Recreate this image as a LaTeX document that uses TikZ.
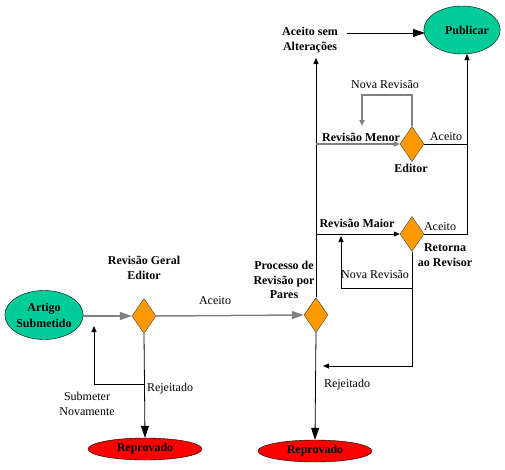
\documentclass[tikz,border=0pt]{standalone}
\usepackage{fontspec}
\setmainfont{Liberation Serif}
\usetikzlibrary{shapes.geometric,arrows.meta}
\definecolor{dorange}{HTML}{FF9900}
\definecolor{dgreen}{HTML}{00CC99}
\definecolor{lgray}{HTML}{808080}
\begin{document}
\begin{tikzpicture}[x=1pt,y=-1pt,
  dia/.style={diamond,draw=black!75,fill=dorange,minimum width=24pt,minimum height=35pt,inner sep=0pt,aspect=0.69},
  grn/.style={ellipse,draw=black,fill=dgreen,inner sep=0pt,align=center,font=\bfseries\fontsize{12}{16}\selectfont},
  rej/.style={ellipse,draw=black,fill=red,minimum width=114pt,minimum height=22pt,inner sep=0pt,font=\bfseries\fontsize{12}{13}\selectfont},
  lbl/.style={align=center,inner sep=1pt,font=\bfseries\fontsize{12}{14.5}\selectfont},
  txt/.style={align=center,inner sep=1pt,font=\fontsize{12}{14.5}\selectfont},
  bline/.style={draw=black,line width=0.8pt},
  gline/.style={draw=lgray,line width=1.5pt},
  big/.tip={Triangle[length=12pt,width=8pt]},
  sml/.tip={Triangle[length=6pt,width=5pt]}
]
\useasboundingbox (0,0) rectangle (505,469);
% nodes
\node[grn,minimum width=73pt,minimum height=49pt] (art) at (44,315) {Artigo\\Submetido};
\node[dia] (d1) at (144,316) {};
\node[lbl] (l1) at (144,268) {Revisão Geral\\Editor};
\node[dia] (d2) at (316,315) {};
\node[lbl] (l2) at (284,280) {Processo de\\Revisão por\\Pares};
\node[rej] (r1) at (145,449) {Reprovado};
\node[rej] (r2) at (315,451) {Reprovado};
\node[grn,minimum width=74pt,minimum height=48pt] (pub) at (462,30) {\hspace*{10pt}Publicar};
\node[lbl] (acs) at (310,40) {Aceito sem\\Alterações};
\node[dia] (d3) at (412,144) {};
\node[dia] (d4) at (412,234) {};
\node[lbl] (lmen) at (361,137) {Revisão Menor};
\node[lbl] (led) at (411,168) {Editor};
\node[lbl] (lmai) at (357,223) {Revisão Maior};
\node[lbl] (lret) at (445,255) {Retorna\\ao Revisor};
% plain labels
\node[txt] (t1) at (215,301) {Aceito};
\node[txt] (t2) at (170,389) {Rejeitado};
\node[txt] (t3) at (87,404) {Submeter\\Novamente};
\node[txt] (t4) at (347,385) {Rejeitado};
\node[txt] (t5) at (385,85) {Nova Revisão};
\node[txt] (t6) at (446,137) {Aceito};
\node[txt] (t7) at (440,227) {Aceito};
\node[txt] (t8) at (375,275) {Nova Revisão};
% coordinates
\coordinate (j1) at (316,144);
\coordinate (j2) at (316,234);
\coordinate (top) at (316,58);
\coordinate (a1) at (347,33);
\coordinate (a2) at (425,33);
\coordinate (m1) at (467,144);
\coordinate (pj) at (467,234);
\coordinate (pt) at (467,54);
\coordinate (n1) at (412,95);
\coordinate (n2) at (362,95);
\coordinate (n3) at (362,126);
\coordinate (q1) at (412,288);
\coordinate (q2) at (341,288);
\coordinate (q3) at (341,236);
\coordinate (b1) at (412,366);
\coordinate (b2) at (323,366);
\coordinate (s1) at (144,384);
\coordinate (s2) at (94,384);
\coordinate (s3) at (94,326);
% connectors
\draw[gline,-{big}] (art.east |- d1.west) -- (d1.west);
\draw[gline,-{big}] (d1.east) -- (d2.west);
\draw[bline,-{big}] (d1.south) -- (r1.north);
\draw[bline,-{sml}] (s1) -- (s2) -- (s3);
\draw[bline,-{big}] (d2.south) -- (r2.north);
\draw[bline,-{sml}] (d2.north) -- (top);
\draw[bline,-{big}] (a1) -- (a2);
\draw[gline,-{sml}] (j1) -- (d3.west);
\draw[bline,-{sml}] (j2) -- (d4.west);
\draw[bline] (d3.east) -- (m1);
\draw[bline,-{sml}] (d4.east) -- (pj) -- (pt);
\draw[gline,-{sml}] (d3.north) -- (n1) -- (n2) -- (n3);
\draw[bline,-{sml}] (d4.south) -- (b1) -- (b2);
\draw[bline,-{sml}] (q1) -- (q2) -- (q3);
\end{tikzpicture}
\end{document}
